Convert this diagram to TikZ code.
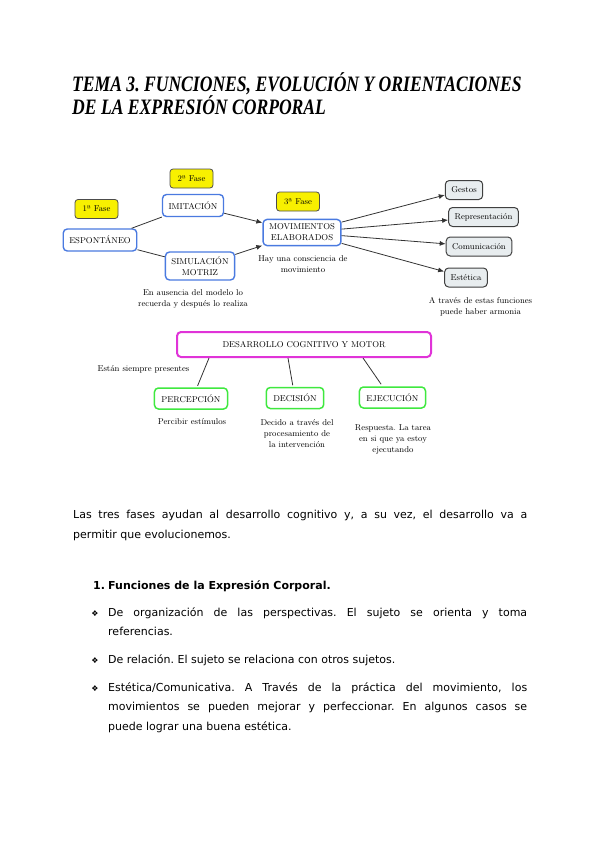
\documentclass[tikz,border=0pt]{standalone}
\usepackage{fontspec}
\newfontfamily\textofont{DejaVu Sans}
\newfontfamily\titulofont[FakeStretch=0.8]{Liberation Serif}
\usetikzlibrary{arrows.meta}
\tikzset{>={Latex[width=5pt,length=6pt]}}
\frenchspacing
\definecolor{cmapblue}{HTML}{4A7AE0}
\definecolor{cmapmagenta}{HTML}{E033D8}
\definecolor{cmapgreen}{HTML}{3FE83F}
\definecolor{faseyellow}{HTML}{F8F000}
\definecolor{funcgray}{HTML}{E8EDEF}
\newcommand{\DIAG}{\fontsize{8.5}{11}\selectfont}
\newcommand{\TEXTO}{\textofont\fontsize{11}{19.5}\selectfont}
\tikzset{
  titulo/.style={anchor=base west, inner sep=0pt,
    font=\titulofont\bfseries\itshape\fontsize{22}{24}\selectfont},
  concepto/.style={draw=cmapblue, line width=1.4pt, rounded corners=4pt,
    fill=white, align=center, font=\DIAG, inner xsep=6pt, inner ysep=4.5pt,
    minimum height=22pt},
  fase/.style={draw=black!70, fill=faseyellow, line width=0.8pt,
    rounded corners=3pt, minimum width=43pt, minimum height=19pt,
    inner xsep=3pt, font=\fontsize{8.5}{10}\selectfont},
  funcion/.style={draw=black!75, fill=funcgray, line width=1pt,
    rounded corners=4pt, minimum height=19pt, inner xsep=6pt, font=\DIAG},
  desarrollo/.style={draw=cmapmagenta, line width=2pt, rounded corners=4pt,
    minimum width=254pt, minimum height=25pt, font=\DIAG},
  paso/.style={draw=cmapgreen, line width=1.5pt, rounded corners=4pt,
    minimum height=21pt, inner xsep=7pt, font=\DIAG},
  nota/.style={align=center, font=\DIAG, inner sep=0pt},
  conector/.style={draw=black!80, line width=0.8pt},
  parrafo/.style={anchor=base west, inner sep=0pt, align=justify, font=\TEXTO},
}

\begin{document}
\begin{tikzpicture}[x=1pt,y=-1pt]

\useasboundingbox (0,0) rectangle (600,848);

\node[titulo] (tit1) at (72,92) {TEMA 3. FUNCIONES, EVOLUCIÓN Y ORIENTACIONES};
\node[titulo] (tit2) at (72,114) {DE LA EXPRESIÓN CORPORAL};

%% fases
\node[fase] (f1) at (96.5,209) {1ª Fase};
\node[fase] (f2) at (191.5,178.5) {2ª Fase};
\node[fase] (f3) at (298,201.5) {3ª Fase};

\node[concepto] (esp) at (100,240) {ESPONTÁNEO};
\node[concepto] (imit) at (193,205.5) {IMITACIÓN};
\node[concepto] (sim) at (200,266) {SIMULACIÓN\\MOTRIZ};
\node[concepto] (mov) at (302,232.5) {MOVIMIENTOS\\ELABORADOS};

\node[funcion] (gest) at (464,190) {Gestos};
\node[funcion] (repr) at (483.5,217) {Representación};
\node[funcion] (com) at (479,246.5) {Comunicación};
\node[funcion] (est) at (466,277.5) {Estética};

\node[nota] (nmov) at (303,264) {Hay una consciencia de\\movimiento};
\node[nota] (nsim) at (193,299) {En ausencia del modelo lo\\recuerda y después lo realiza};
\node[nota] (nfun) at (480.5,307) {A través de estas funciones\\puede haber armonia};

\draw[conector] (esp) -- (imit);
\draw[conector] (esp) -- (sim);
\draw[conector, ->] (imit) -- (mov);
\draw[conector, ->] (sim) -- (mov);
\foreach \f in {gest,repr,com,est}
  \draw[conector, ->] (mov) -- (\f);

%% desarrollo
\node[desarrollo] (des) at (304,344.5) {DESARROLLO COGNITIVO Y MOTOR};
\node[nota] (siempre) at (143.5,369) {Están siempre presentes};
\node[paso] (perc) at (191,398.5) {PERCEPCIÓN};
\node[paso] (dec) at (295,398) {DECISIÓN};
\node[paso] (eje) at (392.5,397.5) {EJECUCIÓN};
\node[nota] (nperc) at (192,422) {Percibir estímulos};
\node[nota] (ndec) at (297,433.5) {Decido a través del\\procesamiento de\\la intervención};
\node[nota] (neje) at (393,439.5) {Respuesta. La tarea\\en si que ya estoy\\ejecutando};

\draw[conector, shorten >=1.5pt] ([xshift=-95pt]des.south) -- ([xshift=6pt]perc.north);
\draw[conector, shorten >=1.5pt] ([xshift=-16pt]des.south) -- ([xshift=-2pt]dec.north);
\draw[conector, shorten >=2.5pt] ([xshift=59pt]des.south) -- ([xshift=-10pt]eje.north);

%% texto
\node[parrafo, text width=454pt] (p1) at (73,518.5)
{Las tres fases ayudan al desarrollo cognitivo y, a su vez, el desarrollo va a\linebreak
permitir que evolucionemos.};

\node[parrafo] (num) at (93,589) {\bfseries 1.};
\node[parrafo] (sec) at (108,589) {\bfseries Funciones de la Expresión Corporal.};

\foreach \y in {616,663.5,691}
  \node[anchor=base, inner sep=0pt, font=\textofont\fontsize{8}{8}\selectfont] at (95,\y) {❖};
\node[parrafo, text width=419pt] (b1) at (108,616)
{De organización de las perspectivas. El sujeto se orienta y toma\linebreak referencias.};
\node[parrafo, text width=419pt] (b2) at (108,663.5)
{De relación. El sujeto se relaciona con otros sujetos.};
\node[parrafo, text width=419pt] (b3) at (108,691)
{Estética/Comunicativa. A Través de la práctica del movimiento, los\linebreak
movimientos se pueden mejorar y perfeccionar. En algunos casos se\linebreak
puede lograr una buena estética.};

\end{tikzpicture}
\end{document}
